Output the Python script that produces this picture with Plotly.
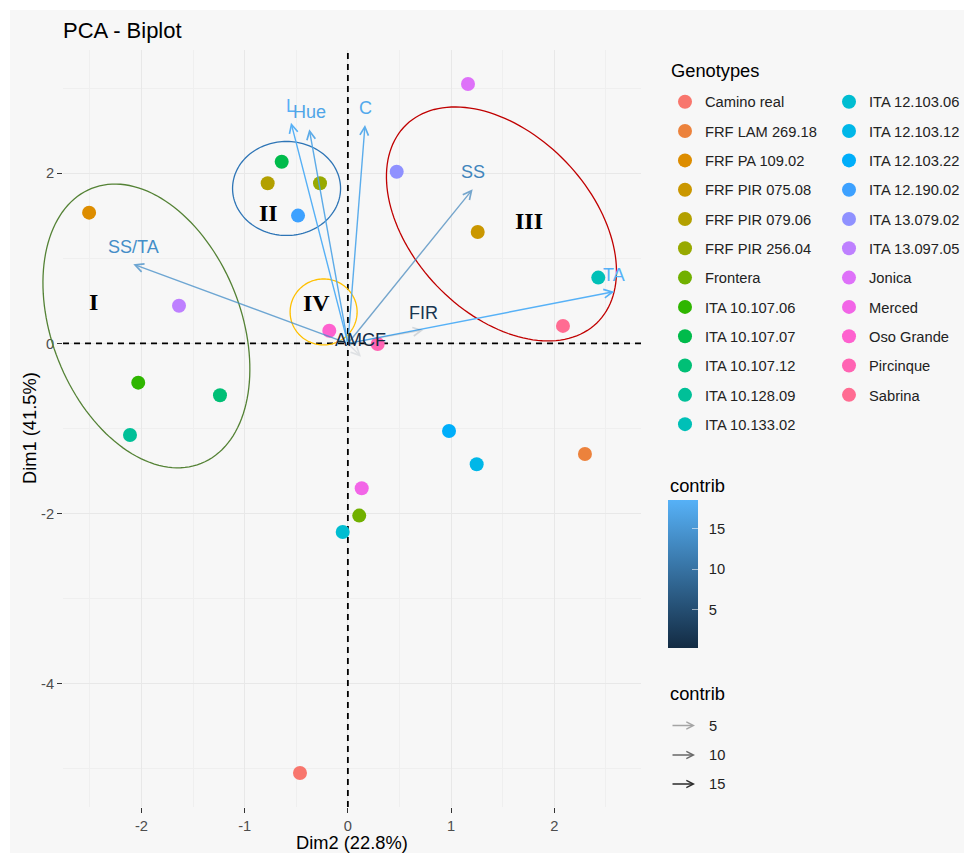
import math
import plotly.graph_objects as go

# ---------------- data ----------------
genotypes = ["Camino real", "FRF LAM 269.18", "FRF PA 109.02", "FRF PIR 075.08",
             "FRF PIR 079.06", "FRF PIR 256.04", "Frontera", "ITA 10.107.06",
             "ITA 10.107.07", "ITA 10.107.12", "ITA 10.128.09", "ITA 10.133.02",
             "ITA 12.103.06", "ITA 12.103.12", "ITA 12.103.22", "ITA 12.190.02",
             "ITA 13.079.02", "ITA 13.097.05", "Jonica", "Merced", "Oso Grande",
             "Pircinque", "Sabrina"]
ind_dim2 = [-0.464, 2.297, -2.507, 1.258, -0.777, -0.270, 0.110, -2.031,
            -0.641, -1.239, -2.111, 2.426, -0.050, 1.248, 0.980, -0.483,
            0.473, -1.636, 1.164, 0.134, -0.180, 0.289, 2.084]
ind_dim1 = [-5.05, -1.299, 1.538, 1.311, 1.884, 1.884, -2.024, -0.461,
            2.137, -0.609, -1.076, 0.774, -2.216, -1.420, -1.029, 1.503,
            2.019, 0.444, 3.051, -1.702, 0.150, -0.006, 0.206]

var_names = ["L", "Hue", "C", "SS", "TA", "SS/TA", "FIR", "AMCF"]
var_dim2 = [-0.551, -0.374, 0.166, 1.209, 2.581, -2.079, 0.731, 0.127]
var_dim1 = [2.596, 2.518, 2.569, 1.813, 0.609, 0.931, 0.159, -0.155]
var_contrib = [18.5, 17.0, 17.5, 12.6, 18.6, 13.8, 1.6, 0.3]

x_ticks = [-2, -1, 0, 1, 2]
y_ticks = [-4, -2, 0, 2]
contrib_ticks = [5, 10, 15]
alpha_legend_values = [5, 10, 15]

# group annotations (drawn by hand on the original): label, x, y
group_labels = ["I", "II", "III", "IV"]
group_label_x = [-2.46, -0.772, 1.754, -0.300]
group_label_y = [0.49, 1.538, 1.440, 0.480]
# ellipses: centre x, centre y, semi-axes (px), tilt (deg), colour
ell_cx = [-1.952, -0.594, 1.488, -0.235]
ell_cy = [0.206, 1.822, 1.405, 0.370]
ell_a = [148, 47, 137.5, 33]
ell_b = [94.5, 54, 89.5, 33.5]
ell_phi = [21.7, 0, 43.8, 0]
ell_col = ["#548235", "#2E75B6", "#C00000", "#FFC000"]

# ---------------- layout geometry ----------------
OFF = 8                      # page body margin of the browser
W, H = 972 - 2 * OFF, 853 - OFF
ML, MT = 63 - OFF, 50 - OFF
PR, PB = 641 - OFF, 807 - OFF
MR, MB = W - PR, H - PB
PW, PH = PR - ML, PB - MT
XR = [-2.76, 2.84]
YR = [-5.45, 3.45]
SX = PW / (XR[1] - XR[0])
SY = PH / (YR[1] - YR[0])


def px_x(px):
    return (px - OFF - ML) / PW


def px_y(py):
    return (PB - (py - OFF)) / PH


def hcl_hex(h, c=100.0, l=65.0):
    Xn, Yn, Zn = 95.047, 100.0, 108.883
    hr = math.radians(h)
    U, V = c * math.cos(hr), c * math.sin(hr)
    Y = Yn * ((l + 16) / 116) ** 3 if l > 8 else Yn * l / 903.3
    den = Xn + 15 * Yn + 3 * Zn
    un, vn = 4 * Xn / den, 9 * Yn / den
    u = U / (13 * l) + un
    v = V / (13 * l) + vn
    X = 9.0 * Y * u / (4 * v)
    Z = -X / 3 - 5 * Y + 3 * Y / v
    X, Y, Z = X / 100, Y / 100, Z / 100
    r = 3.240479 * X - 1.537150 * Y - 0.498535 * Z
    g = -0.969256 * X + 1.875992 * Y + 0.041556 * Z
    b = 0.055648 * X - 0.204043 * Y + 1.057311 * Z

    def gam(t):
        t = 1.055 * t ** (1 / 2.4) - 0.055 if t > 0.0031308 else 12.92 * t
        return max(0, min(255, round(t * 255)))
    return "#%02X%02X%02X" % (gam(r), gam(g), gam(b))


n = len(genotypes)
hues = [15 + i * 360 / n for i in range(n)]
pt_cols = [hcl_hex(h) for h in hues]

LOW = (19, 43, 67)
HIGH = (86, 177, 247)
cmin, cmax = min(var_contrib), max(var_contrib)


def grad(c):
    t = (c - cmin) / (cmax - cmin)
    return tuple(round(LOW[i] + t * (HIGH[i] - LOW[i])) for i in range(3))


def alpha_of(c):
    return 0.1 + 0.9 * (c - cmin) / (cmax - cmin)


FONT = "Liberation Sans, Arial, sans-serif"
BG = "#F7F7F7"

fig = go.Figure()

# dashed reference lines through the origin (below the points)
DASH = dict(color="black", width=1.8, dash="6px,5px")
fig.add_trace(go.Scatter(x=[0, 0], y=YR, mode="lines", line=DASH, showlegend=False,
                         hoverinfo="skip", cliponaxis=True))
fig.add_trace(go.Scatter(x=XR, y=[0, 0], mode="lines", line=DASH, showlegend=False,
                         hoverinfo="skip", cliponaxis=True))

# individuals
for i, g in enumerate(genotypes):
    fig.add_trace(go.Scatter(
        x=[ind_dim2[i]], y=[ind_dim1[i]], mode="markers", name=g,
        marker=dict(size=14, color=pt_cols[i], line=dict(width=0)),
        legend="legend" if i < 12 else "legend2", legendgroup=g,
        hoverinfo="name"))

# colourbar carrier (invisible)
fig.add_trace(go.Scatter(
    x=var_dim2, y=var_dim1, mode="markers", showlegend=False, hoverinfo="skip",
    marker=dict(size=1, opacity=0, color=var_contrib, cmin=cmin, cmax=cmax,
                colorscale=[[0, "rgb(%d,%d,%d)" % LOW], [1, "rgb(%d,%d,%d)" % HIGH]],
                showscale=True,
                colorbar=dict(x=px_x(668), xanchor="left", y=px_y(499.5), yanchor="top",
                              len=148, lenmode="pixels", thickness=29.5,
                              thicknessmode="pixels", outlinewidth=0, xpad=0, ypad=0,
                              tickvals=contrib_ticks,
                              ticktext=["\u2002" + str(v) for v in contrib_ticks],
                              ticks="inside", ticklen=6,
                              tickcolor="rgba(255,255,255,0.55)", tickwidth=1,
                              tickfont=dict(size=14.7, color="#222", family=FONT),
                              title=dict(text=""))),
))

shapes = []
# white outer border strips (top / left)
shapes.append(dict(type="rect", xref="paper", yref="paper", x0=px_x(OFF), x1=px_x(OFF + 2),
                   y0=px_y(853), y1=px_y(OFF), fillcolor="white", line=dict(width=0),
                   layer="below"))
shapes.append(dict(type="rect", xref="paper", yref="paper", x0=px_x(OFF), x1=px_x(972),
                   y0=px_y(OFF + 2), y1=px_y(OFF), fillcolor="white", line=dict(width=0),
                   layer="below"))

# ellipses (paper-referenced so they are not clipped by the panel)
for k in range(len(ell_cx)):
    phi = math.radians(ell_phi[k])
    pts = []
    for j in range(145):
        t = 2 * math.pi * j / 144
        dx = ell_a[k] * math.cos(t) * (-math.sin(phi)) + ell_b[k] * math.sin(t) * math.cos(phi)
        dy = ell_a[k] * math.cos(t) * (math.cos(phi)) + ell_b[k] * math.sin(t) * math.sin(phi)
        xd = ell_cx[k] + dx / SX
        yd = ell_cy[k] + dy / SY
        pts.append(((xd - XR[0]) / (XR[1] - XR[0]), (yd - YR[0]) / (YR[1] - YR[0])))
    path = "M " + " L ".join("%.5f,%.5f" % p for p in pts) + " Z"
    shapes.append(dict(type="path", xref="paper", yref="paper", path=path,
                       line=dict(color=ell_col[k], width=1.3), layer="above"))

annotations = []
# variable arrows
for k, nm in enumerate(var_names):
    r, g, b = grad(var_contrib[k])
    a = alpha_of(var_contrib[k])
    annotations.append(dict(
        x=var_dim2[k], y=var_dim1[k], ax=0, ay=0, xref="x", yref="y",
        axref="x", ayref="y", text="", showarrow=True, arrowhead=5,
        arrowsize=1.2, arrowwidth=1.4, standoff=0,
        arrowcolor="rgba(%d,%d,%d,%.3f)" % (r, g, b, a)))
for k, nm in enumerate(var_names):
    r, g, b = grad(var_contrib[k])
    annotations.append(dict(
        x=var_dim2[k], y=var_dim1[k], xref="x", yref="y", text=nm, showarrow=False,
        xanchor="center", yanchor="middle",
        yshift=17, font=dict(size=18, color="rgb(%d,%d,%d)" % (r, g, b), family=FONT)))

# roman group labels
for k, lab in enumerate(group_labels):
    annotations.append(dict(
        x=group_label_x[k], y=group_label_y[k], xref="x", yref="y",
        text="<b>%s</b>" % lab, showarrow=False, xanchor="center", yanchor="middle",
        font=dict(size=24, color="black", family="Liberation Serif, Times New Roman, serif")))


def ptext(px, py, text, size, color="black", xanchor="center", angle=0):
    annotations.append(dict(x=px_x(px), y=px_y(py), xref="paper", yref="paper",
                            text=text, showarrow=False, xanchor=xanchor, yanchor="middle",
                            textangle=angle,
                            font=dict(size=size, color=color, family=FONT)))


# axis titles
ptext(352, 843, "Dim2 (22.8%)", 18.3)
ptext(29, 428, "Dim1 (41.5%)", 18.3, angle=-90)
# legend titles
ptext(669, 70, "Genotypes", 18.3, xanchor="left")
ptext(668, 485, "contrib", 18.3, xanchor="left")
ptext(668, 693, "contrib", 18.3, xanchor="left")

# alpha legend
alpha_rows = [725.5, 755, 784]
for k, v in enumerate(alpha_legend_values):
    a = alpha_of(v)
    annotations.append(dict(x=px_x(695), y=px_y(alpha_rows[k]), xref="paper", yref="paper",
                            ax=-24, ay=0, text="", showarrow=True, arrowhead=5,
                            arrowsize=1.0, arrowwidth=1.4, standoff=0,
                            arrowcolor="rgba(0,0,0,%.3f)" % a))
    ptext(707, alpha_rows[k], str(v), 14.7, color="#222", xanchor="left")

fig.update_layout(
    width=W, height=H,
    margin=dict(l=ML, r=MR, t=MT, b=MB, autoexpand=False),
    paper_bgcolor=BG, plot_bgcolor=BG,
    font=dict(family=FONT, color="#222"),
    title=dict(text="PCA - Biplot", x=px_x(63), xref="paper", xanchor="left",
               y=1 - (30 - OFF) / H, yref="container", yanchor="middle",
               font=dict(size=22, color="black", family=FONT)),
    xaxis=dict(range=XR, tickvals=x_ticks, ticktext=[str(v) for v in x_ticks],
               showgrid=True, gridcolor="#E8E8E8", gridwidth=1, zeroline=False,
               ticks="outside", ticklen=5, tickwidth=1.1, tickcolor="#333",
               tickfont=dict(size=14.7, color="#4D4D4D", family=FONT),
               minor=dict(dtick=0.5, tick0=0, showgrid=True, gridcolor="#EFEFEF", gridwidth=0.7),
               showline=False, automargin=False, fixedrange=True),
    yaxis=dict(range=YR, tickvals=y_ticks, ticktext=[str(v) for v in y_ticks],
               showgrid=True, gridcolor="#E8E8E8", gridwidth=1, zeroline=False,
               ticks="outside", ticklen=5, tickwidth=1.1, tickcolor="#333",
               tickfont=dict(size=14.7, color="#4D4D4D", family=FONT),
               minor=dict(dtick=1, tick0=0, showgrid=True, gridcolor="#EFEFEF", gridwidth=0.7),
               showline=False, automargin=False, fixedrange=True),
    legend=dict(x=px_x(665), xanchor="left", y=px_y(85.7), yanchor="top",
                bgcolor="rgba(0,0,0,0)", borderwidth=0, tracegroupgap=7.2,
                font=dict(size=14.7, color="#222", family=FONT),
                itemsizing="trace"),
    legend2=dict(x=px_x(829), xanchor="left", y=px_y(85.7), yanchor="top",
                 bgcolor="rgba(0,0,0,0)", borderwidth=0, tracegroupgap=7.2,
                 font=dict(size=14.7, color="#222", family=FONT),
                 itemsizing="trace"),
    shapes=shapes, annotations=annotations,
    showlegend=True,
)

fig.write_html("out.html")
